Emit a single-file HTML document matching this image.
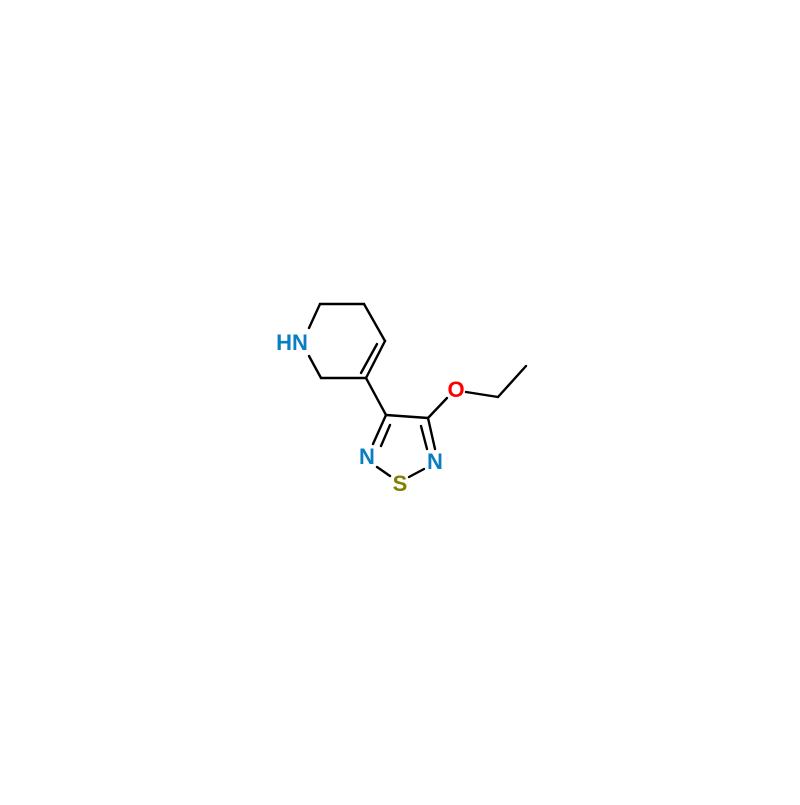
<!DOCTYPE html>
<html><head><style>body{margin:0;background:#fff}</style></head><body>
<svg width="800" height="800" xmlns="http://www.w3.org/2000/svg">
<rect width="800" height="800" fill="#fff"/>
<g stroke="#000" stroke-width="2.4" fill="none" stroke-linecap="round">
<line x1="309" y1="328" x2="320" y2="304"/>
<line x1="320" y1="304" x2="364" y2="304"/>
<line x1="364" y1="304" x2="385" y2="341"/>
<line x1="385" y1="341" x2="366" y2="378"/>
<line x1="377" y1="344" x2="361" y2="373"/>
<line x1="366" y1="378" x2="321" y2="378"/>
<line x1="321" y1="378" x2="309" y2="356"/>
<line x1="366" y1="378" x2="386" y2="415"/>
<line x1="386" y1="415" x2="428" y2="418"/>
<line x1="386" y1="415" x2="373" y2="444"/>
<line x1="390" y1="425" x2="381" y2="446"/>
<line x1="428" y1="418" x2="435" y2="449"/>
<line x1="421" y1="426" x2="427" y2="449"/>
<line x1="377" y1="467" x2="390" y2="476"/>
<line x1="409" y1="477" x2="424" y2="469"/>
<line x1="428" y1="418" x2="447" y2="398"/>
<line x1="466" y1="392" x2="498" y2="397"/>
<line x1="498" y1="397" x2="526" y2="366"/>
</g>
<g font-family="Liberation Sans, sans-serif" font-weight="bold" font-size="22" text-anchor="middle">
<text x="292" y="350" fill="#0a7ec2">HN</text>
<text x="367" y="464" fill="#0a7ec2">N</text>
<text x="435" y="469" fill="#0a7ec2">N</text>
<text x="400" y="491" fill="#808000">S</text>
<text x="456" y="397" fill="#ff0000">O</text>
</g>
</svg>
</body></html>
